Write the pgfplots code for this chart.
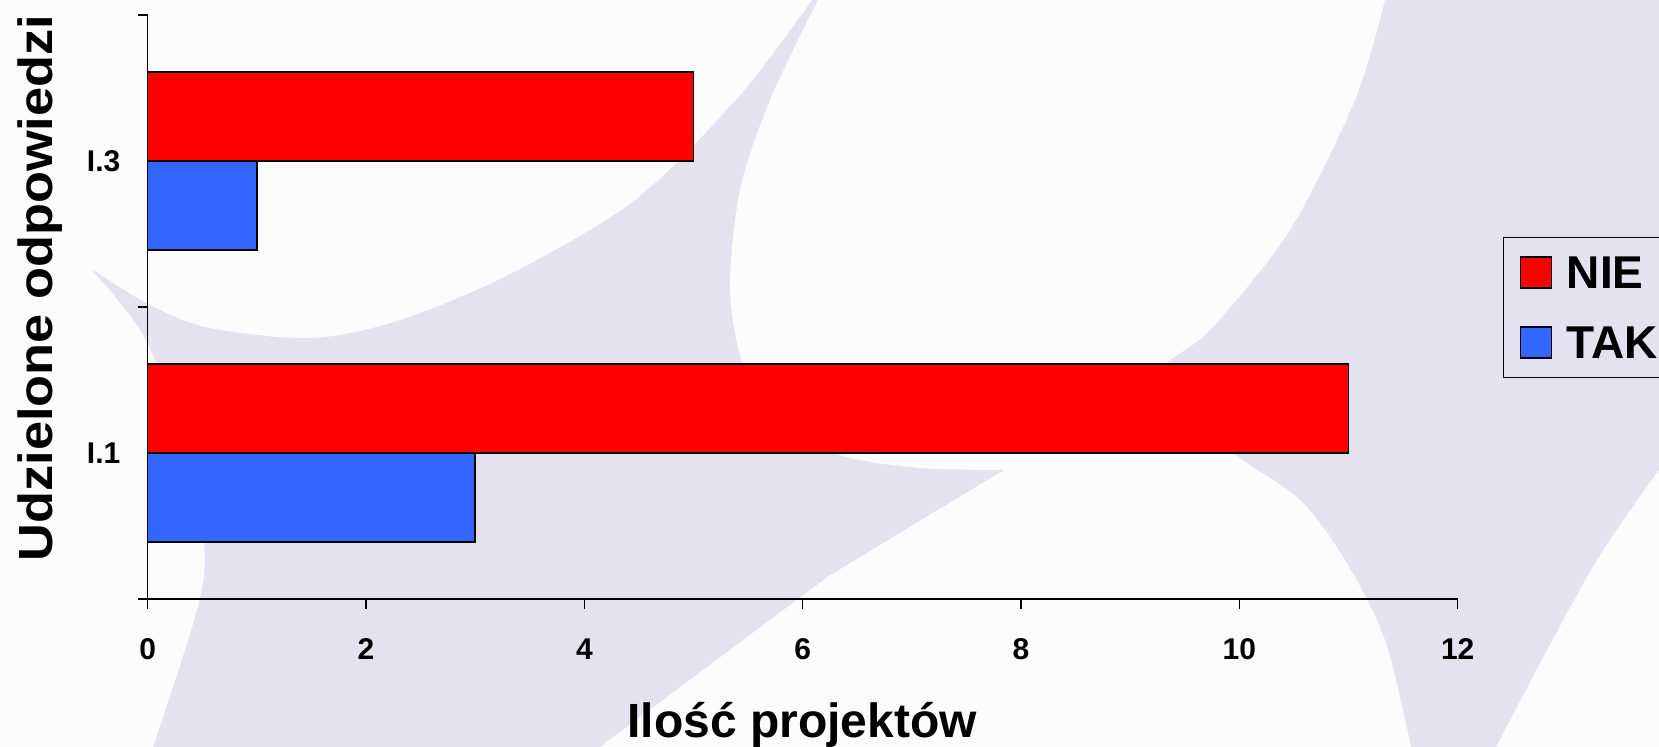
\documentclass[border=0pt]{standalone}
\usepackage{pgfplots}
\pgfplotsset{compat=1.18}
\usepackage{fontspec}
\setmainfont{Liberation Sans}
\definecolor{lav}{RGB}{229,226,240}
\definecolor{bgw}{RGB}{252,252,252}
\definecolor{nie}{RGB}{255,0,0}
\definecolor{tak}{RGB}{51,102,255}
\begin{document}
\begin{tikzpicture}
\useasboundingbox (0,0) rectangle (829.5pt,373.5pt);
\clip (0,0) rectangle (829.5pt,373.5pt);
\begin{scope}[x=0.5pt,y=-0.5pt,shift={(0pt,373.5pt)}]
\fill[lav] (0,0) rectangle (1659,747);
% top-left white area
\fill[bgw] (0,0) -- (812,0)
  -- plot[smooth] coordinates {(812,0) (740,95) (635,200) (508,275) (400,320) (312,338) (210,328) (150,305) (90,268)}
  -- plot[smooth] coordinates {(90,268) (143,335) (185,440) (204,540) (198,606) (153,747)}
  -- (0,747) -- cycle;
% central white area
\fill[bgw] (818,0) -- (1385,0)
  -- plot[smooth] coordinates {(1385,0) (1355,100) (1290,230) (1210,330) (1157,373) (1185,410)}
  -- plot[smooth] coordinates {(1185,410) (1237,456) (1300,500) (1345,560) (1385,640) (1411,747)}
  -- (600,747) -- (829,576) -- (1004,470)
  -- plot[smooth] coordinates {(1004,470) (920,468) (840,455) (785,420) (745,370) (730,290) (740,190) (770,100) (818,0)}
  -- cycle;
% right white area
\fill[bgw] (1659,470) -- plot[smooth] coordinates {(1659,470) (1591,570) (1496,747)} -- (1659,747) -- cycle;
\end{scope}
\begin{axis}[
  at={(73.85pt,74pt)}, anchor=south west,
  scale only axis, width=655pt, height=292pt,
  xbar, bar width=44.5pt,
  xmin=0, xmax=12, ymin=0.5, ymax=2.5,
  axis lines*=left,
  axis line style={line width=0.75pt},
  tick align=outside,
  major tick length=5pt,
  tick style={black, line width=0.75pt},
  xtick={0,2,...,12},
  ytick={0.5,1.5,2.5}, yticklabels={,,},
  extra y ticks={1,2}, extra y tick labels={I.1,I.3},
  extra y tick style={major tick length=0pt},
  ticklabel style={font=\bfseries\fontsize{15}{18}\selectfont},
  /pgf/number format/assume math mode=true,
  xticklabel style={anchor=center, inner sep=0pt, yshift=-20pt},
  yticklabel style={anchor=east, inner sep=0pt, xshift=-13.5pt},
  xlabel={Ilość projektów}, ylabel={\scalebox{1.09}[1]{Udzielone odpowiedzi}},
  label style={font=\bfseries\fontsize{24}{28}\selectfont},
  xlabel style={at={(axis description cs:0.4997,-0.238)}, anchor=base},
  ylabel style={at={(axis description cs:-0.0723,0.5325)}, anchor=base},
  legend style={at={(axis description cs:1.0346,0.6199)}, anchor=north west,
    draw=black, line width=0.6pt, fill=none, inner xsep=8pt, inner ysep=9.4pt,
    row sep=18.8pt, column sep=7.5pt,
    font=\bfseries\fontsize{23}{27}\selectfont,
    nodes={inner sep=0pt, text height=16.2pt, text depth=0pt},
    cells={anchor=west}},
  legend image code/.code={\draw[#1, line width=0.6pt] (0pt,-7.75pt) rectangle (15.5pt,7.75pt);},
  clip=false,
]
\addplot[draw=black, line width=0.75pt, fill=nie, bar shift=22.25pt] coordinates {(11,1) (5,2)};
\addplot[draw=black, line width=0.75pt, fill=tak, bar shift=-22.25pt] coordinates {(3,1) (1,2)};
\legend{NIE,TAK}
\end{axis}
\end{tikzpicture}
\end{document}
